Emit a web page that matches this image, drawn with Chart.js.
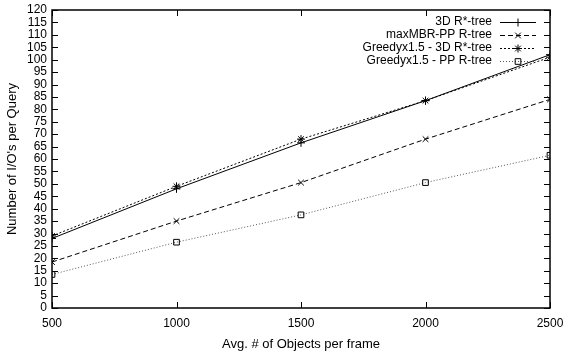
<!DOCTYPE html>
<html>
<head>
<meta charset="utf-8">
<script src="https://cdn.jsdelivr.net/npm/chart.js@4.4.1/dist/chart.umd.min.js"></script>
<style>
  html, body { margin: 0; padding: 0; background: #fff; }
  #wrap { width: 563px; height: 356px; }
</style>
</head>
<body>
<div id="wrap"><canvas id="c" width="563" height="356"></canvas></div>
<script>
// values
const objetos = [500, 1000, 1500, 2000, 2500]
const rstar3d = [28, 48, 66.5, 83.5, 102]
const maxMbrPP = [18.5, 35, 50.5, 68, 84]
const greedy3d = [29, 49, 68, 83.5, 101]
const greedyPP = [13.5, 26.5, 37.5, 50.5, 61.5]
const xTicks = [500, 1000, 1500, 2000, 2500]

const fonte = '"Liberation Sans", Arial, sans-serif'

const series = [
    { label: '3D R*-tree', data: rstar3d, dash: [], estilo: 'cross', cor: '#000' },
    { label: 'maxMBR-PP R-tree', data: maxMbrPP, dash: [5, 3], estilo: 'crossRot', cor: '#000' },
    { label: 'Greedyx1.5 - 3D R*-tree', data: greedy3d, dash: [2, 2], estilo: 'star', cor: '#000' },
    { label: 'Greedyx1.5 - PP R-tree', data: greedyPP, dash: [1, 2], estilo: 'rect', cor: '#555' },
]

// ticks para dentro, espelhados em cima e na direita (estilo gnuplot)
const ticksInternos = {
    id: 'ticksInternos',
    afterDraw(chart) {
        const { ctx, chartArea: a, scales } = chart
        ctx.save()
        ctx.strokeStyle = '#000'
        ctx.lineWidth = 1
        ctx.beginPath()
        scales.y.ticks.forEach(t => {
            const y = Math.round(scales.y.getPixelForValue(t.value)) + 0.5
            ctx.moveTo(a.left, y); ctx.lineTo(a.left + 6, y)
            ctx.moveTo(a.right, y); ctx.lineTo(a.right - 6, y)
        })
        xTicks.forEach(v => {
            const x = Math.round(scales.x.getPixelForValue(v)) + 0.5
            ctx.moveTo(x, a.bottom); ctx.lineTo(x, a.bottom - 6)
            ctx.moveTo(x, a.top); ctx.lineTo(x, a.top + 6)
        })
        ctx.stroke()
        ctx.lineWidth = 1.5
        ctx.strokeRect(a.left, a.top, a.right - a.left, a.bottom - a.top)
        ctx.restore()
    }
}

// legenda no canto superior direito: texto alinhado a direita, amostra de linha depois
const legendaGnuplot = {
    id: 'legendaGnuplot',
    afterDraw(chart) {
        const { ctx, chartArea: a } = chart
        ctx.save()
        ctx.font = '12px ' + fonte
        ctx.textAlign = 'right'
        ctx.textBaseline = 'middle'
        series.forEach((s, i) => {
            const y = Math.round(a.top + 12 + i * 13)
            const xTexto = a.right - 58
            ctx.fillStyle = '#000'
            ctx.fillText(s.label, xTexto, y)
            const x0 = a.right - 50, x1 = a.right - 14
            ctx.strokeStyle = s.cor
            ctx.lineWidth = 1
            ctx.setLineDash(s.dash)
            ctx.beginPath(); ctx.moveTo(x0, y + 0.5); ctx.lineTo(x1, y + 0.5); ctx.stroke()
            ctx.setLineDash([])
            ctx.strokeStyle = '#000'
            ctx.fillStyle = 'rgba(0,0,0,0)'
            Chart.helpers.drawPoint(ctx, { pointStyle: s.estilo, radius: 4, borderWidth: 1 }, (x0 + x1) / 2, y + 0.5)
        })
        ctx.restore()
    }
}

new Chart(document.getElementById('c'), {
    type: 'line',
    data: {
        datasets: series.map(s => ({
            label: s.label,
            data: objetos.map((x, i) => ({ x: x, y: s.data[i] })),
            borderColor: s.cor,
            borderWidth: 1,
            borderDash: s.dash,
            pointStyle: s.estilo,
            pointRadius: 4,
            pointBorderColor: '#000',
            pointBackgroundColor: 'rgba(0,0,0,0)',
            pointBorderWidth: 1,
            tension: 0,
            fill: false,
        }))
    },
    options: {
        responsive: false,
        animation: false,
        layout: { padding: { top: 10, right: 13, left: 0, bottom: 0 } },
        plugins: {
            legend: { display: false },
            tooltip: { enabled: false },
        },
        scales: {
            x: {
                type: 'linear',
                min: 500,
                max: 2500,
                afterBuildTicks: s => { s.ticks = xTicks.map(v => ({ value: v })) },
                afterFit: s => { s.height = 48; s.paddingLeft = 0; s.paddingRight = 0 },
                grid: { display: false, drawTicks: false },
                border: { display: false },
                ticks: {
                    color: '#000',
                    padding: 8,
                    font: { family: fonte, size: 12 },
                    callback: v => String(v),
                },
                title: {
                    display: true,
                    text: 'Avg. # of Objects per frame',
                    color: '#000',
                    font: { family: fonte, size: 13 },
                    padding: { top: 2, bottom: 4 },
                },
            },
            y: {
                min: 0,
                max: 120,
                afterFit: s => { s.width = 52; s.paddingTop = 0; s.paddingBottom = 0 },
                grid: { display: false, drawTicks: false },
                border: { display: false },
                ticks: {
                    stepSize: 5,
                    autoSkip: false,
                    color: '#000',
                    padding: 5,
                    font: { family: fonte, size: 12 },
                },
                title: {
                    display: true,
                    text: "Number of I/O's per Query",
                    color: '#000',
                    font: { family: fonte, size: 13 },
                    padding: { top: 5, bottom: 0 },
                },
            },
        },
    },
    plugins: [ticksInternos, legendaGnuplot]
})
</script>
</body>
</html>
